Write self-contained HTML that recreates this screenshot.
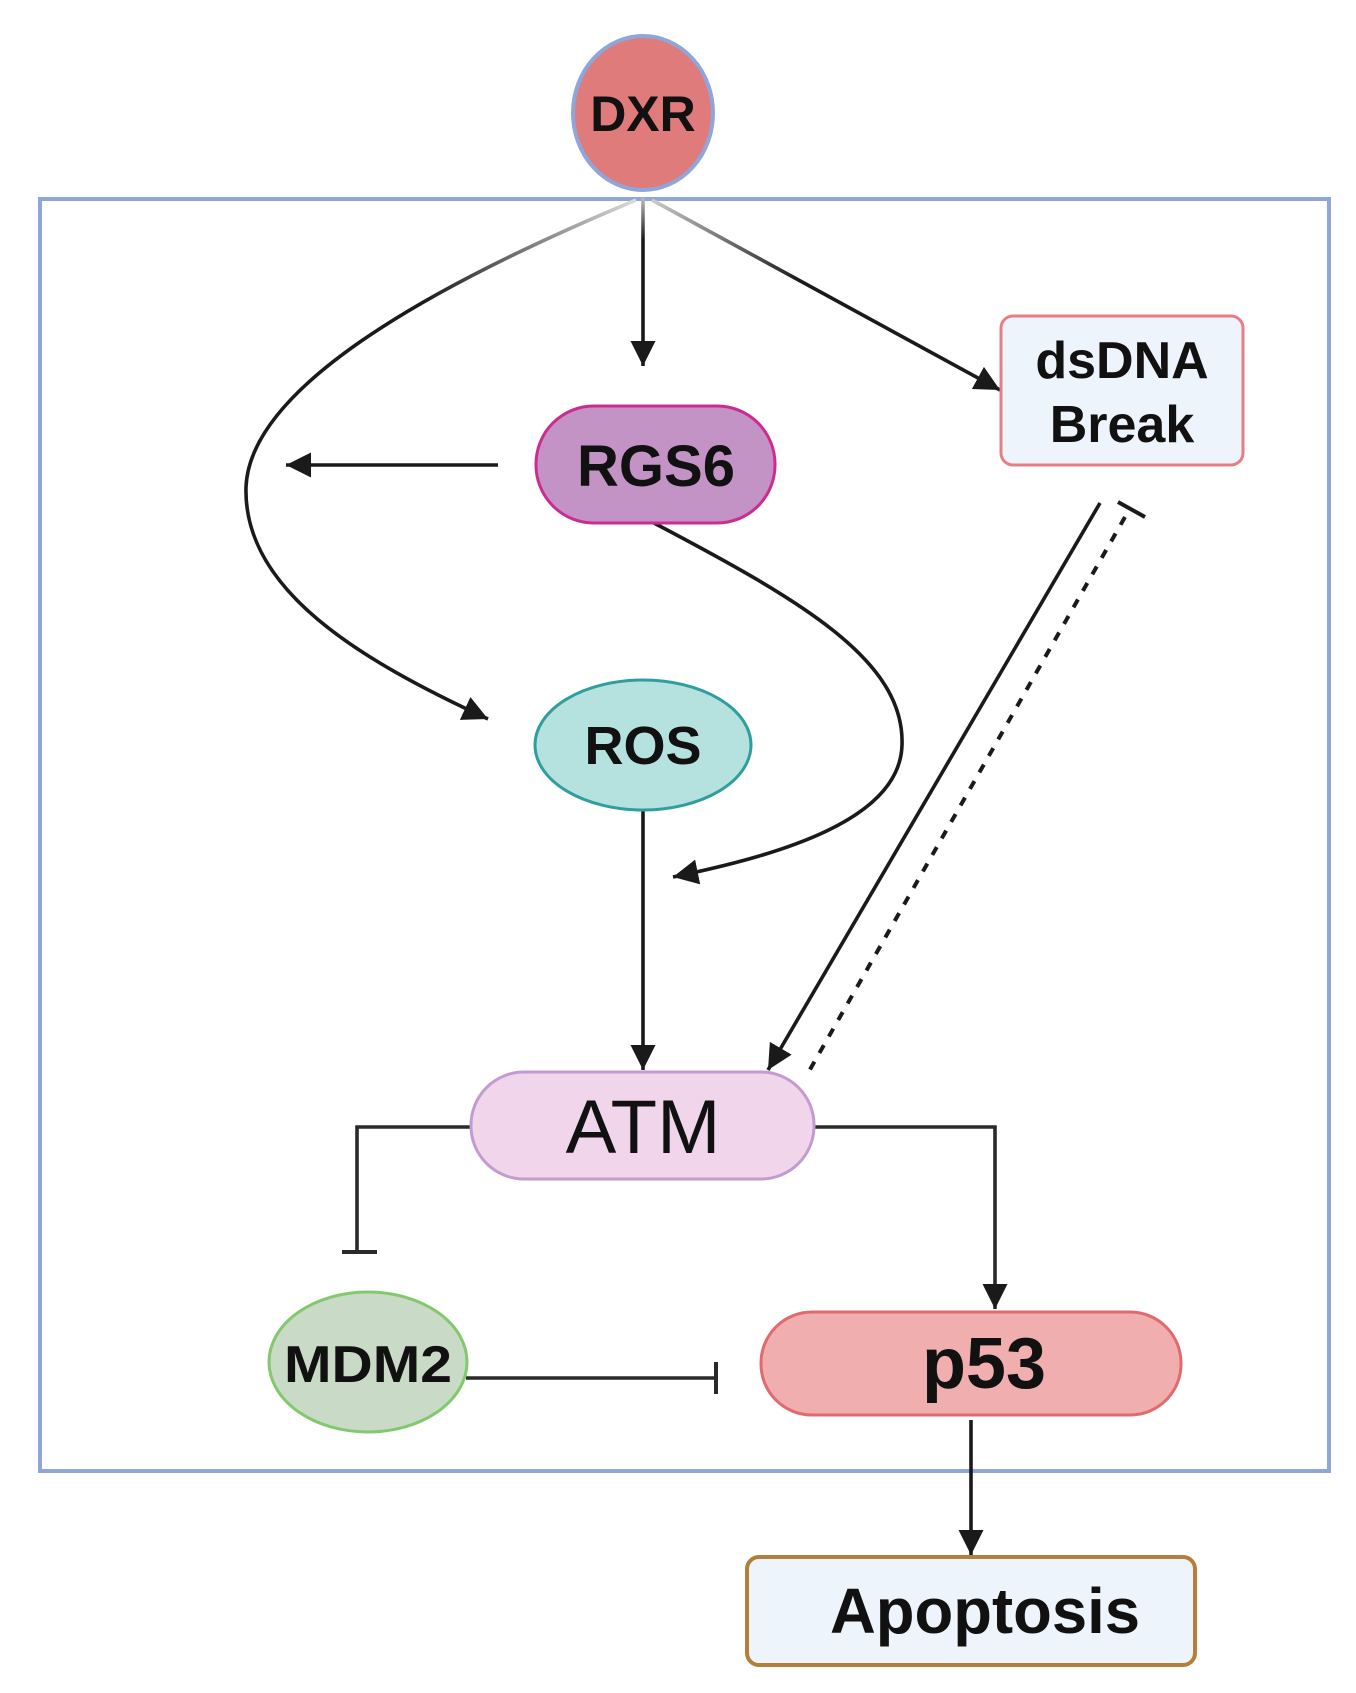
<!DOCTYPE html>
<html><head><meta charset="utf-8"><style>
html,body{margin:0;padding:0;background:#fff;}
svg{display:block;}
text{font-family:"Liberation Sans",sans-serif;fill:#111;}
</style></head><body>
<svg width="1356" height="1693" viewBox="0 0 1356 1693" xmlns="http://www.w3.org/2000/svg">
<defs>
<marker id="ah" viewBox="0 0 10 10" refX="10" refY="5" markerWidth="7" markerHeight="7" markerUnits="strokeWidth" orient="auto">
<path d="M0,0 L10,5 L0,10 Z" fill="#1a1a1a"/>
</marker>
<linearGradient id="gL" gradientUnits="userSpaceOnUse" x1="639" y1="200" x2="420" y2="300">
<stop offset="0" stop-color="#ddd"/><stop offset="1" stop-color="#1a1a1a"/></linearGradient>
<linearGradient id="gR" gradientUnits="userSpaceOnUse" x1="650" y1="200" x2="800" y2="280">
<stop offset="0" stop-color="#ccc"/><stop offset="1" stop-color="#1a1a1a"/></linearGradient>
<linearGradient id="gC" gradientUnits="userSpaceOnUse" x1="0" y1="198" x2="0" y2="240">
<stop offset="0" stop-color="#bbb"/><stop offset="1" stop-color="#1a1a1a"/></linearGradient>
</defs>

<!-- outer box -->
<rect x="40" y="199" width="1289" height="1272" fill="none" stroke="#8ea6da" stroke-width="4"/>

<!-- DXR -->
<ellipse cx="643" cy="113" rx="70" ry="77" fill="#e07b7b" stroke="#8ea6da" stroke-width="4"/>
<text x="643" y="131" font-size="50" font-weight="bold" text-anchor="middle">DXR</text>

<!-- connectors -->
<g fill="none" stroke-width="3.6">
<line x1="643" y1="198" x2="643" y2="366" stroke="url(#gC)" marker-end="url(#ah)"/>
<line x1="652" y1="200" x2="1000" y2="390" stroke="url(#gR)" marker-end="url(#ah)"/>
<path d="M636,200 C420,290 250,390 246,487 C243,590 360,660 488,719" stroke="url(#gL)" marker-end="url(#ah)"/>
<line x1="498" y1="465" x2="286" y2="465" stroke="#1a1a1a" marker-end="url(#ah)"/>
<path d="M654,523 C800,600 905,660 902,745 C900,820 780,855 673,877" stroke="#1a1a1a" marker-end="url(#ah)"/>
<line x1="643" y1="811" x2="643" y2="1070" stroke="#1a1a1a" marker-end="url(#ah)"/>
<line x1="1100" y1="503" x2="768" y2="1070" stroke="#1a1a1a" marker-end="url(#ah)"/>
<line x1="1125" y1="517" x2="808" y2="1073" stroke="#1a1a1a" stroke-width="4" stroke-dasharray="9,10"/>
<line x1="1118" y1="502" x2="1145" y2="517" stroke="#1a1a1a" stroke-width="4"/>
<polyline points="472,1127 357,1127 357,1252" stroke="#2a2a2a"/>
<line x1="342" y1="1252" x2="377" y2="1252" stroke="#2a2a2a" stroke-width="4"/>
<polyline points="813,1127 995,1127 995,1309" stroke="#2a2a2a" marker-end="url(#ah)"/>
<line x1="466" y1="1378" x2="716" y2="1378" stroke="#2a2a2a"/>
<line x1="716" y1="1362" x2="716" y2="1394" stroke="#2a2a2a" stroke-width="4"/>
<line x1="971" y1="1420" x2="971" y2="1555" stroke="#1a1a1a" marker-end="url(#ah)"/>
</g>

<!-- RGS6 -->
<rect x="536" y="406" width="239" height="117" rx="58" fill="#c493c6" stroke="#cc2c92" stroke-width="3"/>
<text x="656" y="486" font-size="58" font-weight="bold" text-anchor="middle">RGS6</text>

<!-- dsDNA -->
<rect x="1001" y="316" width="242" height="149" rx="12" fill="#eef4fb" stroke="#e57f84" stroke-width="3"/>
<text x="1122" y="378" font-size="52" font-weight="bold" text-anchor="middle">dsDNA</text>
<text x="1122" y="442" font-size="52" font-weight="bold" text-anchor="middle">Break</text>

<!-- ROS -->
<ellipse cx="643" cy="745" rx="108" ry="65" fill="#b5e1de" stroke="#2f9e9e" stroke-width="3"/>
<text x="643" y="764" font-size="54" font-weight="bold" text-anchor="middle">ROS</text>

<!-- ATM -->
<rect x="471" y="1072" width="343" height="107" rx="53" fill="#f1d5eb" stroke="#c39ad2" stroke-width="3"/>
<text x="643" y="1153" font-size="76" text-anchor="middle">ATM</text>

<!-- MDM2 -->
<ellipse cx="368" cy="1362" rx="99" ry="70" fill="#c9dbc6" stroke="#82c96e" stroke-width="3"/>
<text x="368" y="1382" font-size="52" font-weight="bold" text-anchor="middle" textLength="168" lengthAdjust="spacingAndGlyphs">MDM2</text>

<!-- p53 -->
<rect x="761" y="1312" width="420" height="103" rx="51" fill="#f0aeae" stroke="#e16a6f" stroke-width="3"/>
<text x="984" y="1388" font-size="72" font-weight="bold" text-anchor="middle">p53</text>

<!-- Apoptosis -->
<rect x="747" y="1557" width="448" height="108" rx="12" fill="#eef4fb" stroke="#b47f3a" stroke-width="4"/>
<text x="985" y="1633" font-size="64" font-weight="bold" text-anchor="middle" textLength="310" lengthAdjust="spacingAndGlyphs">Apoptosis</text>
</svg>
</body></html>
